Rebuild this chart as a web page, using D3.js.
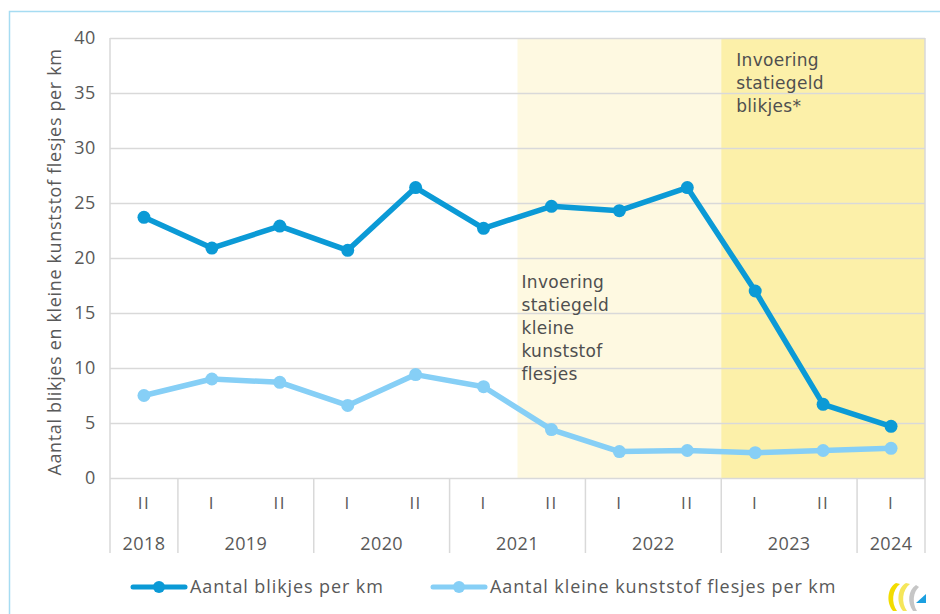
<!DOCTYPE html>
<html>
<head>
<meta charset="utf-8">
<script src="https://cdn.jsdelivr.net/npm/d3@7"></script>
<style>
  body { margin: 0; background: #fff; }
  svg { display: block; }
</style>
</head>
<body>
<div id="chart"></div>
<script>
// halfjaren en jaren
const periods = ["II", "I", "II", "I", "II", "I", "II", "I", "II", "I", "II", "I"];
const years = [
  { label: "2018", from: 0, to: 1 },
  { label: "2019", from: 1, to: 3 },
  { label: "2020", from: 3, to: 5 },
  { label: "2021", from: 5, to: 7 },
  { label: "2022", from: 7, to: 9 },
  { label: "2023", from: 9, to: 11 },
  { label: "2024", from: 11, to: 12 }
];
const blikjes = [23.7, 20.9, 22.9, 20.7, 26.4, 22.7, 24.7, 24.3, 26.4, 17.0, 6.7, 4.7];
const flesjes = [7.5, 9.0, 8.7, 6.6, 9.4, 8.3, 4.4, 2.4, 2.5, 2.3, 2.5, 2.7];
const yTicks = [0, 5, 10, 15, 20, 25, 30, 35, 40];
const seriesNames = ["Aantal blikjes per km", "Aantal kleine kunststof flesjes per km"];
const noteFlesjes = ["Invoering", "statiegeld", "kleine", "kunststof", "flesjes"];
const noteBlikjes = ["Invoering", "statiegeld", "blikjes*"];

const width = 940, height = 614;
const plot = { left: 110, right: 925, top: 38, bottom: 478 };
const axisFont = "'Open Sans', 'Noto Sans', sans-serif";
const noteFont = "'DejaVu Sans', Verdana, sans-serif";
const darkBlue = "#0b9ad6";
const lightBlue = "#86cff6";
const gridColor = "#d9d9d9";
const textColor = "#595959";

const svg = d3.select("#chart").append("svg")
  .attr("width", width)
  .attr("height", height);

// kader
svg.append("rect")
  .attr("x", 9.5).attr("y", 11.5)
  .attr("width", width + 20).attr("height", height + 20)
  .attr("fill", "none")
  .attr("stroke", "#a6dcf2")
  .attr("stroke-width", 1.5);

const x = d3.scaleBand()
  .domain(d3.range(periods.length))
  .range([plot.left, plot.right]);

const y = d3.scaleLinear()
  .domain([0, 40])
  .range([plot.bottom, plot.top]);

const xEnd = i => i === periods.length ? plot.right : x(i);

// achtergrondvlakken
svg.append("rect")
  .attr("x", x(6)).attr("y", plot.top)
  .attr("width", x(9) - x(6)).attr("height", plot.bottom - plot.top)
  .attr("fill", "#fef9e1");
svg.append("rect")
  .attr("x", x(9)).attr("y", plot.top)
  .attr("width", plot.right - x(9)).attr("height", plot.bottom - plot.top)
  .attr("fill", "#fcf0a9");

// rasterlijnen
svg.append("g")
  .selectAll("line")
  .data(yTicks)
  .join("line")
  .attr("x1", plot.left).attr("x2", plot.right)
  .attr("y1", d => y(d) + 0.5).attr("y2", d => y(d) + 0.5)
  .attr("stroke", gridColor)
  .attr("stroke-width", 1.5);

// y-as
const yAxis = d3.axisLeft(y).tickValues(yTicks).tickSize(0).tickPadding(14);
svg.append("g")
  .attr("transform", `translate(${plot.left},0)`)
  .call(yAxis)
  .call(g => g.select(".domain").remove())
  .selectAll("text")
  .attr("font-family", axisFont)
  .attr("font-size", 18)
  .attr("letter-spacing", 0.6)
  .attr("fill", textColor);

svg.append("text")
  .attr("transform", `translate(61, ${(plot.top + plot.bottom) / 2 + 4}) rotate(-90)`)
  .attr("text-anchor", "middle")
  .attr("font-family", axisFont)
  .attr("font-size", 18)
  .attr("letter-spacing", 0.65)
  .attr("fill", textColor)
  .text("Aantal blikjes en kleine kunststof flesjes per km");

// jaarscheidingen onder de plot
svg.append("g")
  .selectAll("line")
  .data(years.map(d => xEnd(d.to)).concat([plot.left]))
  .join("line")
  .attr("x1", d => d).attr("x2", d => d)
  .attr("y1", plot.bottom).attr("y2", 553)
  .attr("stroke", gridColor)
  .attr("stroke-width", 1.5);

svg.append("g")
  .selectAll("line")
  .data([plot.left, plot.right])
  .join("line")
  .attr("x1", d => d).attr("x2", d => d)
  .attr("y1", plot.top).attr("y2", plot.bottom)
  .attr("stroke", gridColor)
  .attr("stroke-width", 1.5);

// halfjaar-labels
svg.append("g")
  .selectAll("text")
  .data(periods)
  .join("text")
  .attr("x", (d, i) => x(i) + x.bandwidth() / 2)
  .attr("y", 509)
  .attr("text-anchor", "middle")
  .attr("font-family", axisFont)
  .attr("font-size", 17)
  .attr("letter-spacing", 1.5)
  .attr("fill", textColor)
  .text(d => d);

// jaar-labels
svg.append("g")
  .selectAll("text")
  .data(years)
  .join("text")
  .attr("x", d => (x(d.from) + xEnd(d.to)) / 2)
  .attr("y", 550)
  .attr("text-anchor", "middle")
  .attr("font-family", axisFont)
  .attr("font-size", 18)
  .attr("letter-spacing", 0.4)
  .attr("fill", textColor)
  .text(d => d.label);

// annotaties
function note(lines, x0, y0) {
  svg.append("text")
    .attr("font-family", noteFont)
    .attr("font-size", 17)
    .attr("letter-spacing", 0.3)
    .attr("fill", "#4f4f4f")
    .selectAll("tspan")
    .data(lines)
    .join("tspan")
    .attr("x", x0)
    .attr("y", (d, i) => y0 + i * 23)
    .text(d => d);
}
note(noteFlesjes, x(6) + 4, 288);
note(noteBlikjes, x(9) + 15, 66);

// lijnen
const line = d3.line()
  .x((d, i) => x(i) + x.bandwidth() / 2)
  .y(d => y(d));

function drawSeries(values, color) {
  svg.append("path")
    .datum(values)
    .attr("d", line)
    .attr("fill", "none")
    .attr("stroke", color)
    .attr("stroke-width", 5.5)
    .attr("stroke-linejoin", "round");
  svg.append("g")
    .selectAll("circle")
    .data(values)
    .join("circle")
    .attr("cx", (d, i) => x(i) + x.bandwidth() / 2)
    .attr("cy", d => y(d))
    .attr("r", 6.5)
    .attr("fill", color);
}
drawSeries(flesjes, lightBlue);
drawSeries(blikjes, darkBlue);

// legenda
const legend = [
  { name: seriesNames[0], color: darkBlue, x: 133 },
  { name: seriesNames[1], color: lightBlue, x: 433 }
];
const lg = svg.append("g")
  .selectAll("g")
  .data(legend)
  .join("g")
  .attr("transform", d => `translate(${d.x}, 587)`);
lg.append("line")
  .attr("x1", 0).attr("x2", 52)
  .attr("stroke", d => d.color)
  .attr("stroke-width", 5)
  .attr("stroke-linecap", "round");
lg.append("circle")
  .attr("cx", 26).attr("r", 6)
  .attr("fill", d => d.color);
lg.append("text")
  .attr("x", 57)
  .attr("y", 6)
  .attr("font-family", axisFont)
  .attr("font-size", 18)
  .attr("letter-spacing", 0.9)
  .attr("fill", textColor)
  .text(d => d.name);

// logo
const logo = svg.append("g").attr("transform", "translate(885, 582)");
logo.append("path")
  .attr("d", "M11,1 C2,6 1,21 8,29 L12,29 C6,21 7,8 15,2 Z")
  .attr("fill", "#f2dc00");
logo.append("path")
  .attr("d", "M21,1 C12,6 11,21 18,29 L22,29 C16,21 17,8 25,2 Z")
  .attr("fill", "#f5e65a");
logo.append("path")
  .attr("d", "M31,3 C23,8 22,21 28,29 L32,29 C27,21 28,10 34,5 Z")
  .attr("fill", "#c6c6c6");
logo.append("path")
  .attr("d", "M31,21 L41,12 L41,21 Z")
  .attr("fill", "#1a9fe0");
</script>
</body>
</html>
